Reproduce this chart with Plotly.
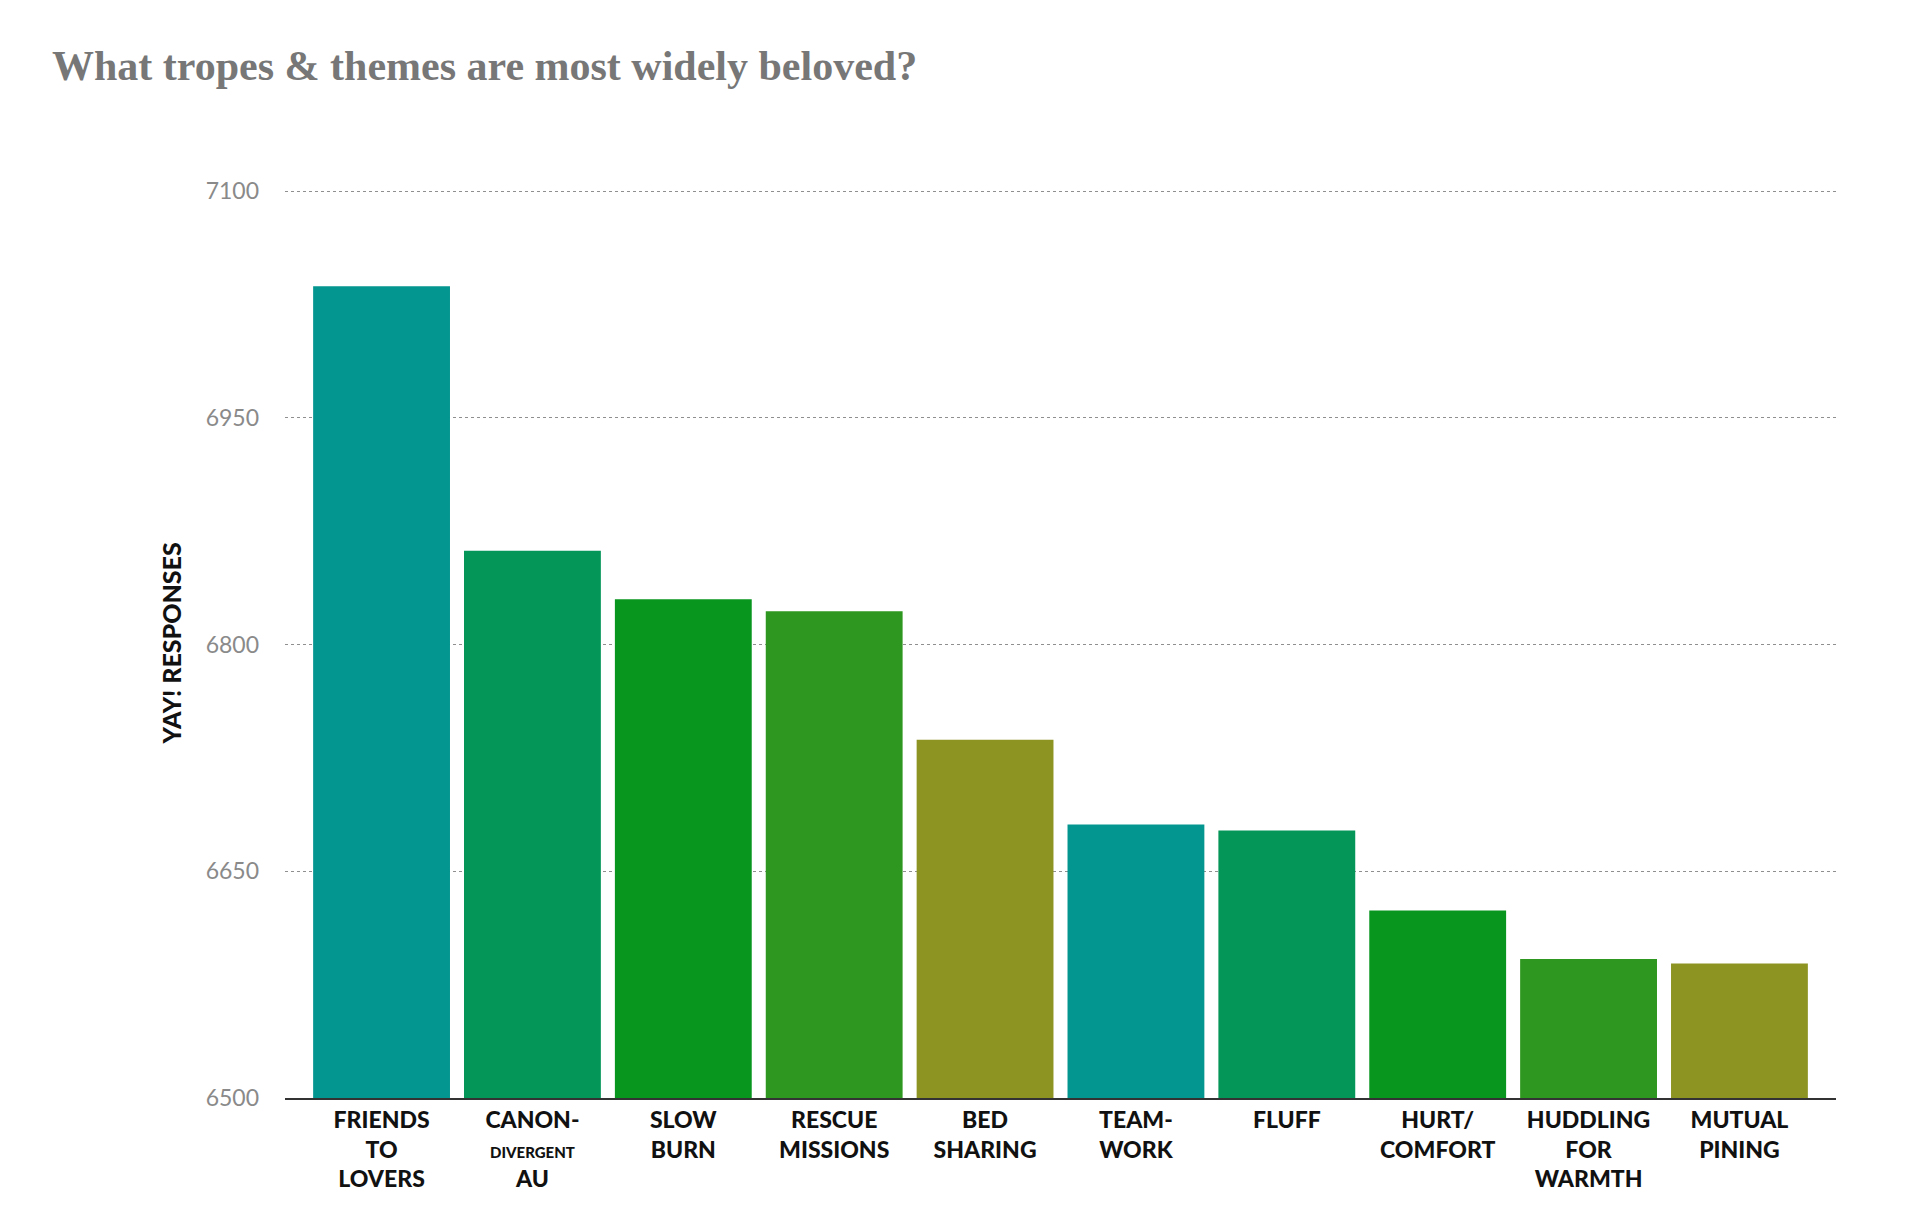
import plotly.graph_objects as go

categories = [
    "FRIENDS<br>TO<br>LOVERS",
    "CANON-<br><span style='font-size:15px'>DIVERGENT</span><br>AU",
    "SLOW<br>BURN",
    "RESCUE<br>MISSIONS",
    "BED<br>SHARING",
    "TEAM-<br>WORK",
    "FLUFF",
    "HURT/<br>COMFORT",
    "HUDDLING<br>FOR<br>WARMTH",
    "MUTUAL<br>PINING",
]
yay_responses = [7037, 6862, 6830, 6822, 6737, 6681, 6677, 6624, 6592, 6589]
bar_colors = ["#03958f", "#049558", "#08961f", "#2e971f", "#8e9422",
              "#03958f", "#049558", "#08961f", "#2e971f", "#8e9422"]
y_ticks = [6500, 6650, 6800, 6950, 7100]

W, H = 1910, 1230
L, R, T, B = 277, 82, 181, 140

fig = go.Figure(go.Bar(
    x=list(range(len(categories))),
    y=yay_responses,
    marker=dict(color=bar_colors, line=dict(width=0)),
))

fig.update_layout(
    width=W, height=H,
    margin=dict(l=L, r=R, t=T, b=B, autoexpand=False),
    paper_bgcolor="white", plot_bgcolor="white",
    bargap=0.093,
    showlegend=False,
    title=dict(
        text="<b>What tropes &amp; themes are most widely beloved?</b>",
        font=dict(family="Liberation Serif", size=42, color="#777777"),
        x=44 / W, xanchor="left", xref="container",
        y=1 - 57 / H, yanchor="middle", yref="container",
    ),
    xaxis=dict(
        tickmode="array",
        tickvals=list(range(len(categories))),
        ticktext=categories,
        range=[-0.64, 9.64],
        showgrid=False, zeroline=False,
        showline=True, linecolor="#333333", linewidth=2,
        ticks="", tickfont=dict(family="Lato", size=23, color="#111111", weight=900),
    ),
    yaxis=dict(
        range=[6500, 7101.4],
        tickmode="array", tickvals=y_ticks,
        showgrid=True, gridcolor="#8f8f8f", griddash="dot", gridwidth=1,
        zeroline=False, showline=False, ticks="",
        ticklabelstandoff=25,
        tickfont=dict(family="Lato", size=23, color="#8a8a8a"),
    ),
    annotations=[dict(
        text="YAY! RESPONSES", textangle=-90,
        xref="paper", yref="paper", x=(162 - L) / (W - L - R), y=0.5,
        xanchor="center", yanchor="middle", showarrow=False,
        font=dict(family="Lato", size=25, color="#111111", weight=900),
    )],
)

fig.write_html("out.html")
